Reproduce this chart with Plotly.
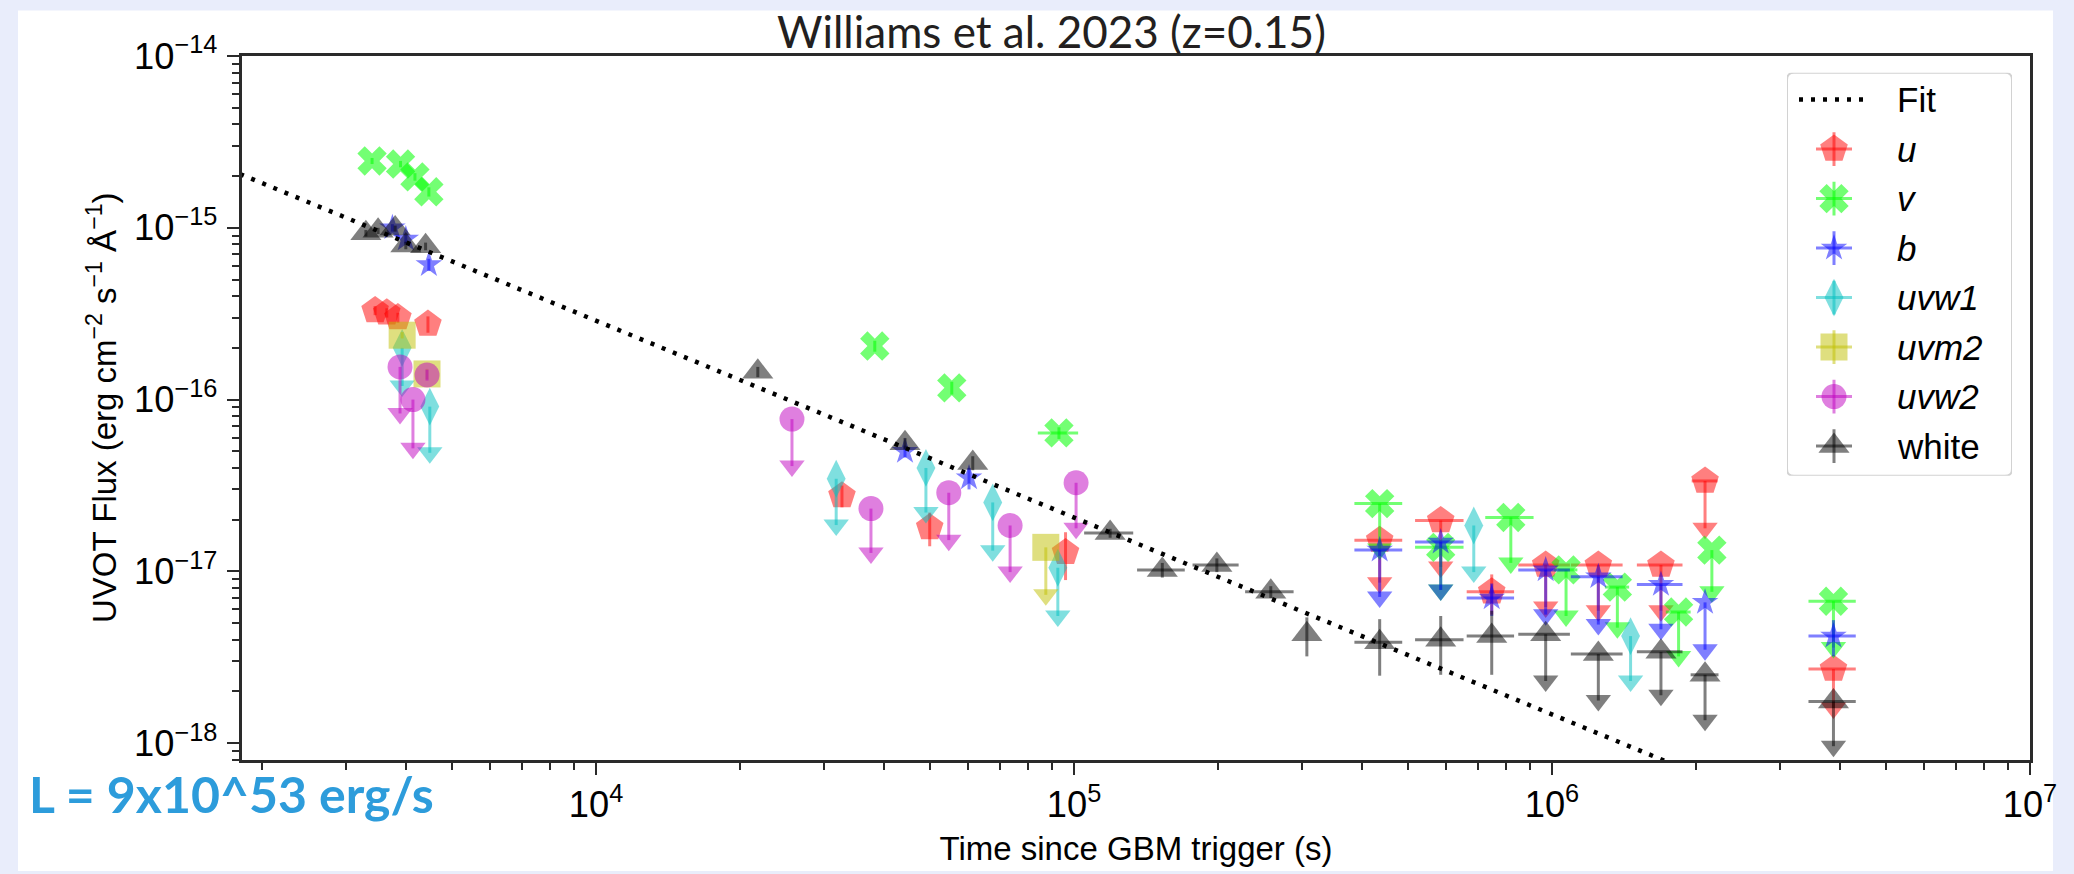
import math
import plotly.graph_objects as go

# ---------------------------------------------------------------------------
# Swift/UVOT light curve (flux density vs. time since the GBM trigger)
# time in s, flux in erg cm^-2 s^-1 A^-1.
# *_time_err : half width of the time bin (s)
# *_flux_err : 1-sigma error for detections, arrow length for upper limits
# *_uplim    : 1 = upper limit
# ---------------------------------------------------------------------------
u_time = [3.45e3, 3.65e3, 3.85e3, 4.45e3, 3.27e4, 4.99e4, 9.6e4, 4.36e5, 5.85e5,
          7.48e5, 9.7e5, 1.25e6, 1.69e6, 2.09e6, 3.88e6]
u_time_err = [0, 0, 0, 0, 0, 0, 0, 5.0e4, 6.8e4, 8.5e4, 1.2e5, 1.55e5, 1.85e5, 1.3e5, 4.4e5]
u_flux = [3.3e-16, 3.2e-16, 3.0e-16, 2.75e-16, 2.76e-17, 1.8e-17, 1.29e-17, 1.52e-17,
          1.98e-17, 7.6e-18, 1.09e-17, 1.09e-17, 1.09e-17, 3.36e-17, 2.7e-18]
u_flux_err = [0.2e-16, 0.2e-16, 0.2e-16, 0.3e-16, 0.4e-17, 0.4e-17, 0.4e-17, 0.66e-17,
              0.92e-17, 2.0e-18, 0.47e-17, 0.5e-17, 0.5e-17, 1.58e-17, 1.1e-18]
u_uplim = [0, 0, 0, 0, 0, 0, 0, 1, 1, 0, 1, 1, 1, 1, 1]

v_time = [3.4e3, 3.9e3, 4.18e3, 4.47e3, 3.83e4, 5.55e4, 9.3e4, 4.36e5, 5.85e5,
          8.2e5, 1.07e6, 1.37e6, 1.84e6, 2.16e6, 3.88e6]
v_time_err = [0, 0, 0, 0, 0, 0, 9.0e3, 5.0e4, 6.8e4, 9.5e4, 6.0e4, 8.0e4, 1.1e5, 0, 4.4e5]
v_flux = [2.45e-15, 2.35e-15, 1.98e-15, 1.62e-15, 2.05e-16, 1.17e-16, 6.4e-17, 2.48e-17,
          1.38e-17, 2.06e-17, 1.02e-17, 8.1e-18, 5.8e-18, 1.33e-17, 6.7e-18]
v_flux_err = [0.1e-15, 0.1e-15, 0.1e-15, 0.1e-15, 0.15e-16, 0.1e-16, 0.5e-17, 1.13e-17,
              0.6e-17, 0.94e-17, 0.47e-17, 3.4e-18, 2.6e-18, 5.7e-18, 3.1e-18]
v_uplim = [0, 0, 0, 0, 0, 0, 0, 1, 1, 1, 1, 1, 1, 1, 1]

b_time = [3.75e3, 4.0e3, 4.47e3, 4.43e4, 6.03e4, 4.36e5, 5.85e5, 7.48e5, 9.7e5,
          1.25e6, 1.69e6, 2.09e6, 3.88e6]
b_time_err = [0, 0, 0, 0, 0, 5.0e4, 6.8e4, 8.5e4, 1.2e5, 1.55e5, 1.85e5, 0, 4.4e5]
b_flux = [1.0e-15, 8.6e-16, 6.1e-16, 5.0e-17, 3.5e-17, 1.33e-17, 1.48e-17, 7.0e-18,
          1.02e-17, 9.3e-18, 8.4e-18, 6.6e-18, 4.2e-18]
b_flux_err = [0.05e-15, 0.5e-16, 0.5e-16, 0.4e-17, 0.5e-17, 0.62e-17, 0.7e-17, 1.5e-18,
              0.46e-17, 4.4e-18, 3.8e-18, 3.1e-18, 1.0e-18]
b_uplim = [0, 0, 0, 0, 0, 1, 1, 0, 1, 1, 1, 1, 0]

uvw1_time = [3.93e3, 4.49e3, 3.18e4, 4.9e4, 6.76e4, 9.25e4, 6.86e5, 1.46e6]
uvw1_time_err = [0, 0, 0, 0, 0, 0, 0, 0]
uvw1_flux = [2.0e-16, 9.1e-17, 3.46e-17, 4.0e-17, 2.52e-17, 1.05e-17, 1.85e-17, 4.2e-18]
uvw1_flux_err = [0.8e-16, 4.2e-17, 1.6e-17, 1.8e-17, 1.2e-17, 0.5e-17, 0.86e-17, 1.9e-18]
uvw1_uplim = [1, 1, 1, 1, 1, 1, 1, 1]

uvm2_time = [3.93e3, 4.43e3, 8.73e4]
uvm2_time_err = [0, 0, 0]
uvm2_flux = [2.37e-16, 1.41e-16, 1.38e-17]
uvm2_flux_err = [0.1e-16, 0.1e-16, 0.65e-17]
uvm2_uplim = [0, 0, 1]

uvw2_time = [3.89e3, 4.14e3, 4.43e3, 2.57e4, 3.76e4, 5.47e4, 7.35e4, 1.01e5]
uvw2_time_err = [0, 0, 0, 0, 0, 0, 0, 0]
uvw2_flux = [1.55e-16, 1.0e-16, 1.39e-16, 7.7e-17, 2.32e-17, 2.87e-17, 1.85e-17, 3.28e-17]
uvw2_flux_err = [0.72e-16, 0.48e-16, 0.1e-16, 3.6e-17, 1.04e-17, 1.35e-17, 0.86e-17, 1.5e-17]
uvw2_uplim = [1, 1, 0, 1, 1, 1, 1, 1]

white_time = [3.3e3, 3.5e3, 3.8e3, 4.0e3, 4.4e3, 2.18e4, 4.43e4, 6.14e4, 1.19e5, 1.53e5,
              1.99e5, 2.58e5, 3.07e5, 4.36e5, 5.85e5, 7.48e5, 9.7e5, 1.25e6, 1.69e6,
              2.09e6, 3.88e6]
white_time_err = [0, 0, 0, 0, 0, 0, 0, 0, 1.4e4, 1.75e4, 2.2e4, 3.0e4, 0, 5.0e4, 6.8e4,
                  8.5e4, 1.2e5, 1.55e5, 1.85e5, 1.4e5, 4.4e5]
white_flux = [9.3e-16, 9.6e-16, 9.9e-16, 7.9e-16, 7.8e-16, 1.45e-16, 5.57e-17, 4.28e-17,
              1.67e-17, 1.02e-17, 1.09e-17, 7.6e-18, 4.3e-18, 3.87e-18, 4.0e-18, 4.2e-18,
              4.3e-18, 3.3e-18, 3.4e-18, 2.5e-18, 1.75e-18]
white_flux_err = [0.4e-16, 0.4e-16, 0.4e-16, 0.4e-16, 0.4e-16, 0.1e-16, 0.4e-17, 0.4e-17,
                  0.1e-17, 0.1e-17, 0.1e-17, 0.6e-18, 1.1e-18, 1.4e-18, 1.5e-18, 1.7e-18,
                  2.0e-18, 1.53e-18, 1.5e-18, 1.14e-18, 0.79e-18]
white_uplim = [0, 0, 0, 0, 0, 0, 0, 0, 0, 0, 0, 0, 0, 0, 0, 0, 1, 1, 1, 1, 1]

# power-law fit: F = fit_norm * (t / fit_t0) ** fit_index
fit_norm = 2.88e-16
fit_t0 = 1.0e4
fit_index = -1.146
fit_time = [1.0e3, 1.0e7]

band_names = ["u", "v", "b", "uvw1", "uvm2", "uvw2", "white"]
band_labels = ["<i>u</i>", "<i>v</i>", "<i>b</i>", "<i>uvw1</i>", "<i>uvm2</i>",
               "<i>uvw2</i>", "white"]

# ---------------------------------------------------------------------------
series = {
    "u": (u_time, u_time_err, u_flux, u_flux_err, u_uplim),
    "v": (v_time, v_time_err, v_flux, v_flux_err, v_uplim),
    "b": (b_time, b_time_err, b_flux, b_flux_err, b_uplim),
    "uvw1": (uvw1_time, uvw1_time_err, uvw1_flux, uvw1_flux_err, uvw1_uplim),
    "uvm2": (uvm2_time, uvm2_time_err, uvm2_flux, uvm2_flux_err, uvm2_uplim),
    "uvw2": (uvw2_time, uvw2_time_err, uvw2_flux, uvw2_flux_err, uvw2_uplim),
    "white": (white_time, white_time_err, white_flux, white_flux_err, white_uplim),
}
styles = {
    "u": dict(rgb=(255, 0, 0), alpha=0.5, symbol="pentagon", size=29),
    "v": dict(rgb=(0, 255, 0), alpha=0.55, symbol="x", size=26),
    "b": dict(rgb=(0, 0, 255), alpha=0.5, symbol="star", size=20),
    "uvw1": dict(rgb=(0, 191, 191), alpha=0.5, symbol="diamond-tall", size=27),
    "uvm2": dict(rgb=(191, 191, 0), alpha=0.5, symbol="square", size=27),
    "uvw2": dict(rgb=(191, 0, 191), alpha=0.5, symbol="circle", size=25),
    "white": dict(rgb=(0, 0, 0), alpha=0.5, symbol="triangle-up", size=27),
}


def rgba(st):
    r, g, b = st["rgb"]
    return f"rgba({r},{g},{b},{st['alpha']})"


TEXT_FONT = "Liberation Sans, Arial, Helvetica, sans-serif"
AXIS_COLOR = "#2a2a2a"
PANEL_BG = "#E9EDFB"

fig = go.Figure()

for name in band_names:
    t, terr, f, ferr, lim = series[name]
    st = styles[name]
    col = rgba(st)
    err_plus = [0 if l else e for e, l in zip(ferr, lim)]
    err_minus = list(ferr)
    fig.add_trace(go.Scatter(
        x=t, y=f, mode="markers", name=name, showlegend=False,
        marker=dict(symbol=st["symbol"], size=st["size"], color=col, line=dict(width=0)),
        error_x=dict(type="data", array=terr, color=col, thickness=3, width=0),
        error_y=dict(type="data", symmetric=False, array=err_plus, arrayminus=err_minus,
                     color=col, thickness=3, width=0),
    ))
    # arrow heads of the upper limits
    tip_t = [ti for ti, l in zip(t, lim) if l]
    tip_f = [fi - ei for fi, ei, l in zip(f, ferr, lim) if l]
    if tip_t:
        fig.add_trace(go.Scatter(
            x=tip_t, y=tip_f, mode="markers", showlegend=False, hoverinfo="skip",
            marker=dict(symbol="triangle-down", size=22, color=col, line=dict(width=0)),
        ))

fit_flux = [fit_norm * (ti / fit_t0) ** fit_index for ti in fit_time]
fig.add_trace(go.Scatter(
    x=fit_time, y=fit_flux, mode="lines", name="Fit", showlegend=False,
    line=dict(color="black", width=4.5, dash="4px,8px"),
))

# ---------------------------------------------------------------------------
# legend panel (own small subplot, pixel-like units)
LEG_W, LEG_H = 225, 407
leg_sym_x, leg_txt_x = 47, 108
leg_row0, leg_row_step = 27, 50

fig.add_trace(go.Scatter(
    x=[12, 80], y=[leg_row0, leg_row0], mode="lines", showlegend=False, hoverinfo="skip",
    line=dict(color="black", width=4.5, dash="4px,8px"), xaxis="x2", yaxis="y2",
))
legend_text = [("Fit", leg_row0)]
for i, name in enumerate(band_names):
    st = styles[name]
    col = rgba(st)
    row_y = leg_row0 + leg_row_step * (i + 1)
    fig.add_trace(go.Scatter(
        x=[leg_sym_x], y=[row_y], mode="markers", showlegend=False, hoverinfo="skip",
        marker=dict(symbol=st["symbol"], size=st["size"], color=col, line=dict(width=0)),
        error_x=dict(type="data", array=[18], color=col, thickness=3, width=0),
        error_y=dict(type="data", array=[17], color=col, thickness=3, width=0),
        xaxis="x2", yaxis="y2",
    ))
    legend_text.append((band_labels[i], row_y))

annotations = []
for txt, ry in legend_text:
    annotations.append(dict(
        x=leg_txt_x, y=ry, xref="x2", yref="y2", text=txt, showarrow=False,
        xanchor="left", yanchor="middle",
        font=dict(family=TEXT_FONT, size=35, color="black"),
    ))

# ---------------------------------------------------------------------------
W, H = 2074, 874
L, R, T, B = 242, 44, 56, 107
pw, ph = W - L - R, H - T - B


def px_to_paper_x(px):
    return (px - L) / pw


def px_to_paper_y(py):
    return (H - B - py) / ph


annotations.append(dict(
    x=px_to_paper_x(1051), y=px_to_paper_y(30.5), xref="paper", yref="paper",
    text="Williams et al. 2023 (z=0.15)", showarrow=False,
    xanchor="center", yanchor="middle",
    font=dict(family="Lato, sans-serif", size=44, color="#231F20"),
))
annotations.append(dict(
    x=px_to_paper_x(27), y=px_to_paper_y(801), xref="paper", yref="paper",
    text="<b>L = 9x10^53 erg/s</b>", showarrow=False,
    xanchor="left", yanchor="middle",
    font=dict(family="Lato, sans-serif", size=50, color="#2D9CDB"),
))
# y-axis title
annotations.append(dict(
    x=px_to_paper_x(102), y=0.5, xref="paper", yref="paper", textangle=-90,
    text="UVOT Flux (erg cm<sup>\u22122</sup> s<sup>\u22121</sup> \u00c5<sup>\u22121</sup>)",
    showarrow=False, xanchor="center", yanchor="middle",
    font=dict(family=TEXT_FONT, size=33, color="black"),
))

shapes = [
    # white slide panel behind the figure
    dict(type="rect", xref="paper", yref="paper", layer="below",
         x0=px_to_paper_x(18), x1=px_to_paper_x(2053),
         y0=px_to_paper_y(H + 5), y1=px_to_paper_y(10),
         fillcolor="white", line=dict(width=0)),
    # legend frame with rounded corners
    dict(type="path", xref="x2", yref="y2", layer="below",
         path=(f"M 7,0 H {LEG_W-7} Q {LEG_W},0 {LEG_W},7 V {LEG_H-7} "
               f"Q {LEG_W},{LEG_H} {LEG_W-7},{LEG_H} H 7 Q 0,{LEG_H} 0,{LEG_H-7} "
               f"V 7 Q 0,0 7,0 Z"),
         fillcolor="white", line=dict(color="#d2d2d2", width=2)),
]

axis_common = dict(
    type="log", showgrid=False, zeroline=False,
    showline=True, mirror=True, linecolor=AXIS_COLOR, linewidth=2.5,
    ticks="outside", ticklen=12, tickwidth=2, tickcolor=AXIS_COLOR,
    dtick=1, exponentformat="power", showexponent="all",
    tickfont=dict(family=TEXT_FONT, size=29, color="black"),
    minor=dict(ticks="outside", ticklen=7, tickwidth=2, tickcolor=AXIS_COLOR,
               dtick="D1", showgrid=False),
)

fig.update_layout(
    width=W, height=H,
    margin=dict(l=L, r=R, t=T, b=B, pad=0),
    paper_bgcolor=PANEL_BG, plot_bgcolor="white",
    showlegend=False,
    xaxis=dict(axis_common, range=[math.log10(1817), 7],
               title=dict(text="Time since GBM trigger (s)", standoff=14,
                          font=dict(family=TEXT_FONT, size=33, color="black"))),
    yaxis=dict(axis_common, range=[-18.098, -14], ticklabelstandoff=4),
    xaxis2=dict(domain=[px_to_paper_x(1787), px_to_paper_x(1787 + LEG_W)],
                range=[0, LEG_W], visible=False, anchor="y2", fixedrange=True),
    yaxis2=dict(domain=[px_to_paper_y(73 + LEG_H), px_to_paper_y(73)],
                range=[LEG_H, 0], visible=False, anchor="x2", fixedrange=True),
    annotations=annotations,
    shapes=shapes,
)

fig.write_html("out.html")
